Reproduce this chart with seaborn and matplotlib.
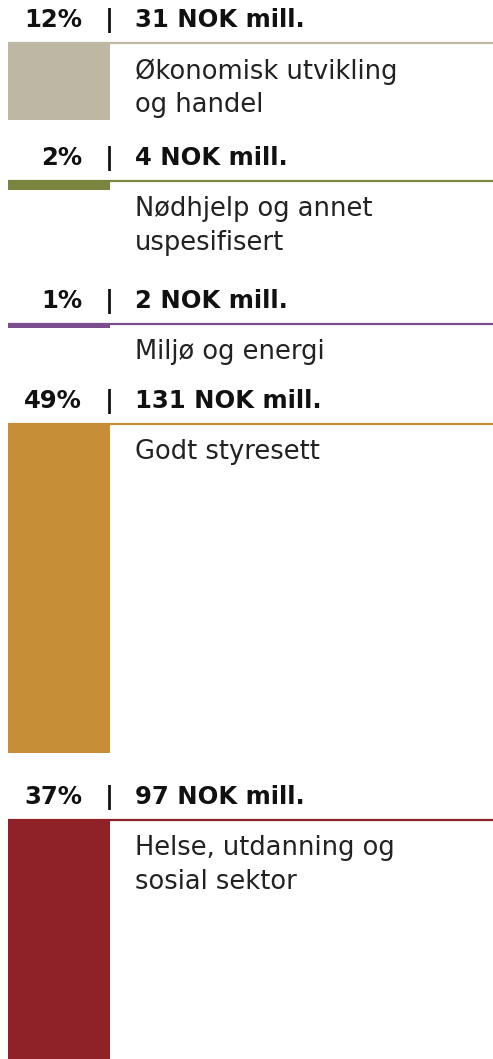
import matplotlib
matplotlib.use("Agg")
import matplotlib.pyplot as plt
import seaborn as sns

# ---- data ----
categories = ["Økonomisk utvikling\nog handel",
              "Nødhjelp og annet\nuspesifisert",
              "Miljø og energi",
              "Godt styresett",
              "Helse, utdanning og\nsosial sektor"]
percents = [12, 2, 1, 49, 37]
values_mill = [31, 4, 2, 131, 97]
colors = ["#BDB7A3", "#7A843F", "#7B4F8E", "#C68E36", "#8F2228"]

# ---- layout (pixel space) ----
W, H = 493, 1059
px_per_mill = 2.52
line_tops = [42, 180, 323, 423, 819]
bar_left, bar_width = 8, 102

sns.set_style("white")
plt.rcParams["font.family"] = ["DejaVu Sans"]

fig = plt.figure(figsize=(W / 100, H / 100), dpi=100)
ax = fig.add_axes([0, 0, 1, 1])
ax.set_xlim(0, W)
ax.set_ylim(H, 0)
ax.axis("off")

for cat, pct, val, col, top in zip(categories, percents, values_mill, colors, line_tops):
    ax.bar(bar_left, val * px_per_mill, width=bar_width, bottom=top,
           align="edge", color=col, edgecolor="none")
    ax.plot([bar_left, W], [top + 0.5, top + 0.5], color=col, lw=1.6,
            solid_capstyle="butt")
    hb = top - 15
    ax.text(82, hb, f"{pct}%", ha="right", va="baseline",
            fontsize=17.5, fontweight="bold", color="#111111")
    ax.text(109, hb, "|", ha="center", va="baseline",
            fontsize=17.5, fontweight="bold", color="#111111")
    ax.text(135, hb, f"{val} NOK mill.", ha="left", va="baseline",
            fontsize=17.5, fontweight="bold", color="#111111")
    ax.text(135, top + 16, cat, ha="left", va="top",
            fontsize=18.5, color="#222222", linespacing=1.38)

fig.savefig("out.png", dpi=100, facecolor="white")
